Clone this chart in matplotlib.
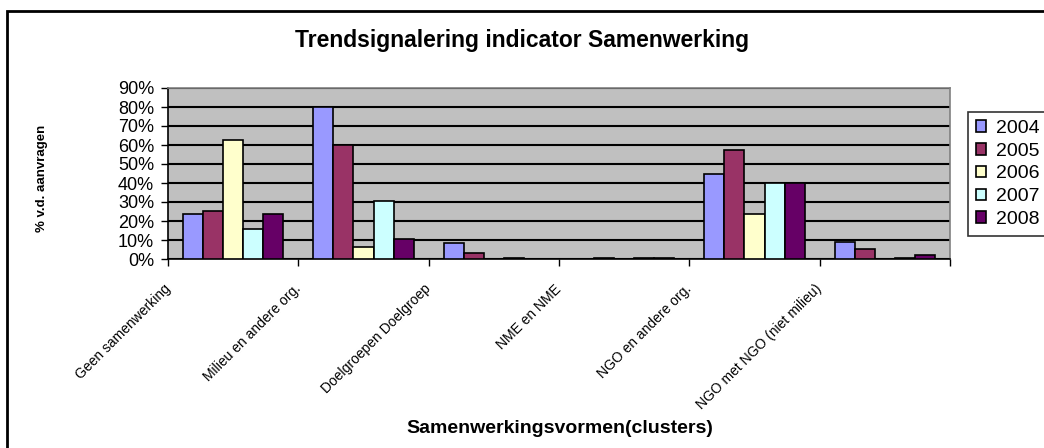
import matplotlib
matplotlib.use("Agg")
import matplotlib.pyplot as plt
import numpy as np
from matplotlib.patches import Rectangle, Patch
from matplotlib.ticker import PercentFormatter

# clusters (x axis) and the share per year, in percent
categories = ["Geen samenwerking", "Milieu en andere org.", "Doelgroepen Doelgroep",
              "NME en NME", "NGO en andere org.", "NGO met NGO (niet milieu)"]
years = ["2004", "2005", "2006", "2007", "2008"]
v2004 = [23.5, 80.0, 8.6, 0.0, 44.5, 9.2]
v2005 = [25.5, 60.0, 3.3, 0.4, 57.5, 5.3]
v2006 = [62.5, 6.4, 0.0, 0.0, 23.5, 0.0]
v2007 = [16.0, 30.7, 0.4, 0.4, 40.0, 0.4]
v2008 = [23.5, 10.6, 0.0, 0.4, 40.0, 2.3]
colors = ["#9999FF", "#993366", "#FFFFCC", "#CCFFFF", "#660066"]

plt.rcParams["font.family"] = ["Liberation Sans", "DejaVu Sans"]

fig = plt.figure(figsize=(10.44, 4.48), dpi=100)
ax = fig.add_axes([168 / 1044, 1 - 259 / 448, (950 - 168) / 1044, (259 - 88) / 448])

series = [v2004, v2005, v2006, v2007, v2008]
x = np.arange(len(categories)) + 0.5
w = 1 / 6.5
for i, vals in enumerate(series):
    ax.bar(x + (i - 2) * w, vals, width=w, color=colors[i], edgecolor="black",
           linewidth=1.2, zorder=3)

ax.set_facecolor("#C0C0C0")
ax.set_xlim(0, len(categories))
ax.set_ylim(0, 90)
ax.set_yticks(np.arange(0, 91, 10))
ax.yaxis.set_major_formatter(PercentFormatter(xmax=100, decimals=0))
ax.yaxis.grid(True, color="black", linewidth=1.5, zorder=1)
ax.set_axisbelow(True)

ax.set_xticks(np.arange(len(categories) + 1))
ax.set_xticklabels(categories + [""], rotation=45, ha="right", va="center",
                   rotation_mode="anchor", fontsize=10)
ax.tick_params(axis="x", direction="out", length=5, width=1, pad=15)
ax.tick_params(axis="y", direction="out", length=5, width=1, labelsize=13, pad=5)

for s in ["left", "bottom"]:
    ax.spines[s].set_color("black")
    ax.spines[s].set_linewidth(1.2)
for s in ["top", "right"]:
    ax.spines[s].set_color("#808080")
    ax.spines[s].set_linewidth(1.2)

fig.text(0.5, 1 - 41 / 448, "Trendsignalering indicator Samenwerking",
         ha="center", va="center", fontsize=16.5, fontweight="bold")
fig.text(42 / 1044, 1 - 178 / 448, "% v.d. aanvragen", rotation=90,
         ha="center", va="center", fontsize=9.5, fontweight="bold")
fig.text(560 / 1044, 1 - 428 / 448, "Samenwerkingsvormen(clusters)",
         ha="center", va="center", fontsize=14, fontweight="bold")

handles = [Patch(facecolor=c, edgecolor="black", linewidth=1.2) for c in colors]
leg = fig.legend(handles, years, loc="upper left", bbox_to_anchor=(968 / 1044, 1 - 112 / 448),
                 fontsize=14, frameon=True, fancybox=False, handlelength=0.55,
                 handleheight=0.55, labelspacing=0.3, handletextpad=0.5, borderpad=0.4,
                 borderaxespad=0)
leg.get_frame().set_edgecolor("black")
leg.get_frame().set_linewidth(1.2)

# outer chart border
fig.add_artist(Rectangle((7 / 1044, -0.05), 1.2, 1 - 11 / 448 + 0.05,
                         transform=fig.transFigure, fill=False,
                         edgecolor="black", linewidth=2))

fig.savefig("out.png", dpi=100)
